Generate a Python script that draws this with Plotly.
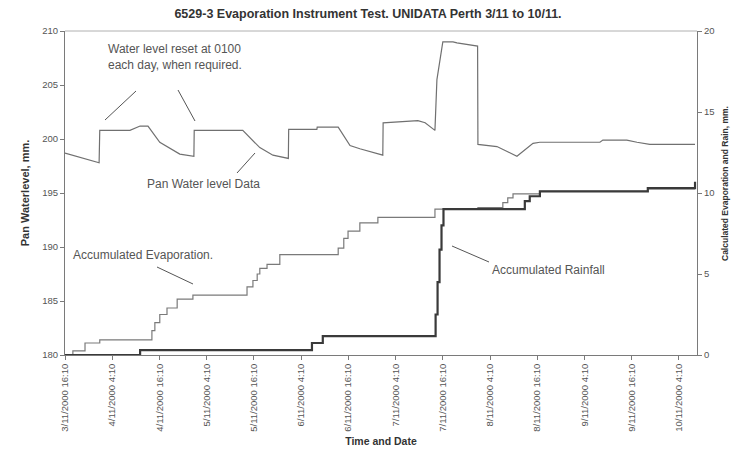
import pandas as pd
import plotly.graph_objects as go

# ---------------- data ----------------
wl_time = ["2000-11-03 16:10", "2000-11-03 20:00", "2000-11-04 00:50", "2000-11-04 01:00",
           "2000-11-04 08:40", "2000-11-04 11:15", "2000-11-04 13:15", "2000-11-04 16:15",
           "2000-11-04 21:20", "2000-11-05 00:55", "2000-11-05 01:00", "2000-11-05 13:20",
           "2000-11-05 17:40", "2000-11-05 21:00", "2000-11-06 00:55", "2000-11-06 01:00",
           "2000-11-06 08:10", "2000-11-06 08:15", "2000-11-06 13:35", "2000-11-06 16:35",
           "2000-11-06 19:05", "2000-11-07 00:55", "2000-11-07 01:00", "2000-11-07 09:50",
           "2000-11-07 11:40", "2000-11-07 14:10", "2000-11-07 14:40", "2000-11-07 16:10",
           "2000-11-07 18:45", "2000-11-07 19:45", "2000-11-07 23:05", "2000-11-08 01:00",
           "2000-11-08 01:05", "2000-11-08 05:55", "2000-11-08 11:00", "2000-11-08 15:05",
           "2000-11-08 16:50", "2000-11-09 08:05", "2000-11-09 08:50", "2000-11-09 14:55",
           "2000-11-09 17:30", "2000-11-09 20:45", "2000-11-10 08:15"]
wl_value = [198.7, 198.3, 197.8, 200.8,
            200.8, 201.2, 201.2, 199.7,
            198.6, 198.4, 200.8, 200.8,
            199.2, 198.5, 198.2, 200.9,
            200.9, 201.1, 201.1, 199.4,
            199.1, 198.5, 201.5, 201.7,
            201.5, 200.8, 205.5, 209.0,
            209.0, 208.9, 208.7, 208.6,
            199.5, 199.3, 198.4, 199.6,
            199.7, 199.7, 199.9, 199.9,
            199.7, 199.5, 199.5]

evap_time = ["2000-11-03 16:10", "2000-11-03 18:10", "2000-11-03 21:15", "2000-11-04 01:00",
             "2000-11-04 14:15", "2000-11-04 15:00", "2000-11-04 16:15", "2000-11-04 18:05",
             "2000-11-04 20:40", "2000-11-05 00:40", "2000-11-05 14:25", "2000-11-05 15:55",
             "2000-11-05 17:00", "2000-11-05 17:40", "2000-11-05 19:30", "2000-11-05 22:45",
             "2000-11-06 13:35", "2000-11-06 15:00", "2000-11-06 16:05", "2000-11-06 19:05",
             "2000-11-06 23:40", "2000-11-07 14:10", "2000-11-08 01:05", "2000-11-08 07:25",
             "2000-11-08 08:40", "2000-11-08 10:00", "2000-11-08 16:50", "2000-11-09 20:15",
             "2000-11-10 08:15"]
evap_value = [0.0, 0.25, 0.74, 0.93,
              1.5, 2.0, 2.5, 2.9,
              3.45, 3.7, 4.2, 4.6,
              5.0, 5.35, 5.6, 6.2,
              6.6, 7.2, 7.65, 8.15,
              8.5, 9.0, 9.1, 9.4,
              9.7, 9.95, 10.1, 10.25,
              10.25]

rain_time = ["2000-11-03 16:10", "2000-11-04 11:15", "2000-11-06 06:55", "2000-11-06 09:40",
             "2000-11-07 14:20", "2000-11-07 14:50", "2000-11-07 15:20", "2000-11-07 15:50",
             "2000-11-07 16:20", "2000-11-08 13:00", "2000-11-08 14:15", "2000-11-08 16:50",
             "2000-11-09 20:15", "2000-11-10 08:15"]
rain_value = [0.0, 0.3, 0.74, 1.17,
              2.5, 4.5, 6.5, 8.0,
              9.0, 9.5, 9.8, 10.1,
              10.3, 10.7]

tick_times = ["2000-11-03 16:10", "2000-11-04 04:10", "2000-11-04 16:10", "2000-11-05 04:10",
              "2000-11-05 16:10", "2000-11-06 04:10", "2000-11-06 16:10", "2000-11-07 04:10",
              "2000-11-07 16:10", "2000-11-08 04:10", "2000-11-08 16:10", "2000-11-09 04:10",
              "2000-11-09 16:10", "2000-11-10 04:10"]
tick_labels = ["3/11/2000 16:10", "4/11/2000 4:10", "4/11/2000 16:10", "5/11/2000 4:10",
               "5/11/2000 16:10", "6/11/2000 4:10", "6/11/2000 16:10", "7/11/2000 4:10",
               "7/11/2000 16:10", "8/11/2000 4:10", "8/11/2000 16:10", "9/11/2000 4:10",
               "9/11/2000 16:10", "10/11/2000 4:10"]
x_range = ["2000-11-03 16:10", "2000-11-10 08:45"]

# ---------------- layout helpers ----------------
W, H = 736, 453
L, R, T, B = 65, 697, 31, 355  # plot area in pixels


def px(x):
    return (x - L) / (R - L)


def py(y):
    return (B - y) / (B - T)


FONT = "Liberation Sans, Arial, sans-serif"
AX = "#7a7a7a"

fig = go.Figure()
fig.add_trace(go.Scatter(x=pd.to_datetime(wl_time), y=wl_value, mode="lines",
                         line=dict(color="#707070", width=1.2), name="Pan Water level Data"))
fig.add_trace(go.Scatter(x=pd.to_datetime(evap_time), y=evap_value, mode="lines",
                         line=dict(color="#7a7a7a", width=1.2, shape="hv"),
                         yaxis="y2", name="Accumulated Evaporation"))
fig.add_trace(go.Scatter(x=pd.to_datetime(rain_time), y=rain_value, mode="lines",
                         line=dict(color="#3a3a3a", width=2.2, shape="hv"),
                         yaxis="y2", name="Accumulated Rainfall"))

shapes = [dict(type="line", xref="paper", yref="paper", x0=0, x1=1, y0=1, y1=1,
               line=dict(color="#b0b0b0", width=1))]
leaders = [(105, 120, 136, 91), (178, 90, 195, 121), (237, 173, 255, 153),
           (157, 267, 193, 284), (452, 246, 489, 262)]
for x0, y0, x1, y1 in leaders:
    shapes.append(dict(type="line", xref="paper", yref="paper",
                       x0=px(x0), y0=py(y0), x1=px(x1), y1=py(y1),
                       line=dict(color="#555555", width=1)))

notes = [("Water level reset at 0100<br>each day, when required.", 107, 57),
         ("Pan Water level Data", 146, 184),
         ("Accumulated Evaporation.", 72, 255),
         ("Accumulated Rainfall", 491, 270)]
annotations = []
for txt, x, y in notes:
    annotations.append(dict(text=txt, xref="paper", yref="paper", x=px(x), y=py(y),
                            xanchor="left", yanchor="middle", align="left", showarrow=False,
                            borderpad=0,
                            font=dict(family=FONT, size=12, color="#555555")))

# right axis title as rotated text
annotations.append(dict(text="<b>Calculated Evaporation and Rain, mm.</b>", xref="paper", yref="paper",
                        x=px(725), y=py(184), xanchor="center", yanchor="middle",
                        textangle=-90, showarrow=False,
                        font=dict(family=FONT, size=8.5, color="#333333")))

fig.update_layout(
    width=W, height=H,
    margin=dict(l=L, r=W - R, t=T, b=H - B, autoexpand=False),
    paper_bgcolor="white", plot_bgcolor="white",
    showlegend=False,
    font=dict(family=FONT, size=10, color="#444444"),
    title=dict(text="<b>6529-3 Evaporation Instrument Test. UNIDATA Perth 3/11 to 10/11.</b>",
               x=0.5, xanchor="center", y=1 - 14 / H, yanchor="middle",
               font=dict(family=FONT, size=12.5, color="#333333")),
    xaxis=dict(type="date", range=pd.to_datetime(x_range), tickmode="array",
               tickvals=pd.to_datetime(tick_times), ticktext=tick_labels, tickangle=-90,
               showgrid=False, zeroline=False, showline=True, linecolor=AX, linewidth=1,
               ticks="outside", ticklen=4, tickcolor=AX, automargin=False,
               tickfont=dict(family=FONT, size=9.5, color="#555555"),
               title=dict(text="<b>Time and Date</b>", standoff=6,
                          font=dict(family=FONT, size=10.5, color="#333333"))),
    yaxis=dict(range=[180, 210], tickmode="array", tickvals=[180, 185, 190, 195, 200, 205, 210],
               showgrid=False, zeroline=False, showline=True, linecolor=AX, linewidth=1,
               ticks="outside", ticklen=4, tickcolor=AX, automargin=False,
               tickfont=dict(family=FONT, size=9.5, color="#555555"),
               title=dict(text="<b>Pan Waterlevel, mm.</b>", standoff=10,
                          font=dict(family=FONT, size=11, color="#333333"))),
    yaxis2=dict(range=[0, 20], overlaying="y", side="right", tickmode="array",
                tickvals=[0, 5, 10, 15, 20],
                showgrid=False, zeroline=False, showline=True, linecolor=AX, linewidth=1,
                ticks="outside", ticklen=4, tickcolor=AX, automargin=False,
                tickfont=dict(family=FONT, size=9.5, color="#555555")),
    shapes=shapes,
    annotations=annotations,
)

fig.write_html("out.html", config={"displayModeBar": False},
               post_script="document.body.style.margin='0px';")
